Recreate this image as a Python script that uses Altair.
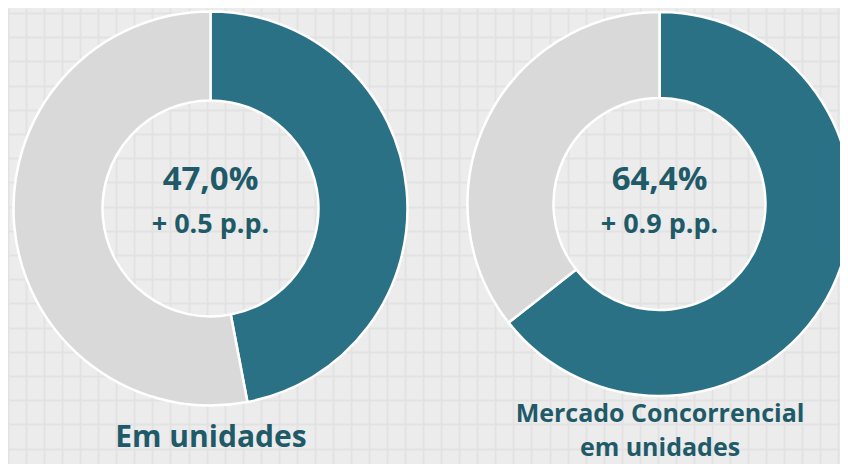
import altair as alt
import pandas as pd

# ---- data ----
donut_names = ["Em unidades", "Mercado Concorrencial\nem unidades"]
share_values = [47.0, 64.4]
share_labels = ["47,0%", "64,4%"]
delta_labels = ["+ 0.5 p.p.", "+ 0.9 p.p."]
part_names = ["Participação", "Restante"]

TEAL = "#2a7185"
GREY = "#d9d9d9"
TEXT = "#1f5a69"
FONT = "Open Sans"

W, H = 832, 456

# background grid layer (decoration only)
xgrid = [round(18.05 * k, 2) for k in range(0, 47)]
ygrid = [round(5 + 24.2 * k, 2) for k in range(0, 19)]
grid = alt.Chart(alt.Data(values=[{"gx": 0, "gy": 0}])).mark_point(opacity=0).encode(
    x=alt.X("gx:Q", scale=alt.Scale(domain=[0, W], nice=False, zero=False),
            axis=alt.Axis(values=xgrid, grid=True, gridColor="#e2e2e2", gridWidth=1.8,
                          labels=False, ticks=False, domain=False, title=None)),
    y=alt.Y("gy:Q", scale=alt.Scale(domain=[0, H], nice=False, zero=False, reverse=True),
            axis=alt.Axis(values=ygrid, grid=True, gridColor="#e2e2e2", gridWidth=1.8,
                          labels=False, ticks=False, domain=False, title=None)),
)

geom = [
    {"cx": 202.5, "cy": 200.5, "r": 197, "r2": 108},
    {"cx": 651.5, "cy": 196, "r": 192, "r2": 106},
]

layers = [grid]
for i, g in enumerate(geom):
    df = pd.DataFrame({
        "part": part_names,
        "value": [share_values[i], 100 - share_values[i]],
        "ord": [0, 1],
    })
    arc = alt.Chart(df).mark_arc(
        radius=g["r"], radius2=g["r2"], stroke="white", strokeWidth=2.5
    ).encode(
        theta=alt.Theta("value:Q", stack=True, scale=alt.Scale(domain=[0, 100])),
        order=alt.Order("ord:Q"),
        color=alt.Color("part:N", scale=alt.Scale(domain=part_names, range=[TEAL, GREY]),
                        legend=None),
        x=alt.value(g["cx"]),
        y=alt.value(g["cy"]),
    )
    layers.append(arc)

    tdf = pd.DataFrame({"share": [share_labels[i]], "delta": [delta_labels[i]],
                        "name": [donut_names[i]]})
    big = alt.Chart(tdf).mark_text(
        font=FONT, fontWeight="bold", fontSize=33, color=TEXT,
        align="center", baseline="alphabetic"
    ).encode(text="share:N", x=alt.value(g["cx"]), y=alt.value(182))
    small = alt.Chart(tdf).mark_text(
        font=FONT, fontWeight="bold", fontSize=27, color=TEXT,
        align="center", baseline="alphabetic"
    ).encode(text="delta:N", x=alt.value(g["cx"]), y=alt.value(225))
    layers += [big, small]

lab_left = alt.Chart(pd.DataFrame({"name": [donut_names[0]]})).mark_text(
    font=FONT, fontWeight="bold", fontSize=30, color=TEXT,
    align="center", baseline="alphabetic"
).encode(text="name:N", x=alt.value(203), y=alt.value(439))

lab_right = alt.Chart(pd.DataFrame({"name": [donut_names[1]]})).mark_text(
    font=FONT, fontWeight="bold", fontSize=25, color=TEXT,
    align="center", baseline="alphabetic", lineBreak="\n", lineHeight=34
).encode(text="name:N", x=alt.value(652), y=alt.value(414))

layers += [lab_left, lab_right]

chart = alt.layer(*layers).properties(
    width=W, height=H, padding=0,
    autosize=alt.AutoSizeParams(type="none"),
    background="#ececec",
).configure_view(stroke=None)

chart.save("out.html", embed_options={"renderer": "svg", "actions": False})
